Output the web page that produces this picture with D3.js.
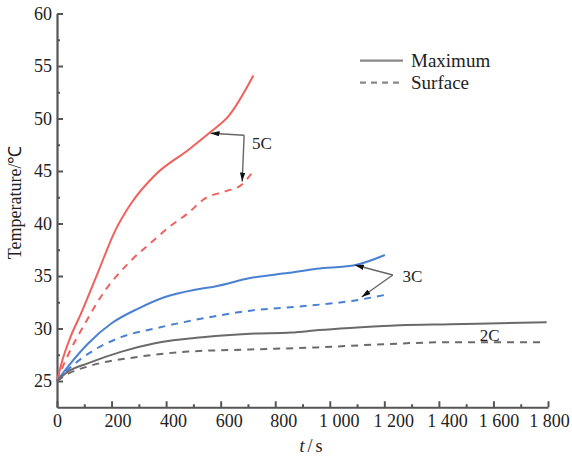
<!DOCTYPE html>
<html><head><meta charset="utf-8">
<script src="https://cdn.jsdelivr.net/npm/d3@7"></script>
<style>
body{margin:0;background:#fff}
svg{display:block}
text{font-family:"Liberation Serif","Times New Roman",serif;fill:#222}
</style>
</head><body>
<svg id="chart" width="572" height="456"></svg>
<script>
// ---- data ----
const xTickValues = [0,200,400,600,800,1000,1200,1400,1600,1800];
const xTickLabels = ["0","200","400","600","800","1 000","1 200","1 400","1 600","1 800"];
const xMinorTicks = [100,300,500,700,900,1100,1300,1500,1700];
const yTickValues = [25,30,35,40,45,50,55,60];
const yMinorTicks = [27.5,32.5,37.5,42.5,47.5,52.5,57.5];

const t5Max = [0,20,45,91,151,213,274,359,481,567,628,720];
const T5Max = [25,27.0,28.9,31.6,35.4,39.3,42.0,44.6,47.0,48.8,50.2,54.1];
const t5Surf = [0,20,41,103,176,261,359,408,481,543,616,677,714];
const T5Surf = [25,26.3,27.5,30.5,33.6,36.2,38.5,39.6,41.0,42.4,43.05,43.7,44.8];

const t3Max = [0,41,115,200,298,396,506,579,708,850,952,1086,1202];
const T3Max = [25,26.4,28.6,30.5,31.9,33.0,33.7,34.0,34.8,35.3,35.7,36.0,37.0];
const t3Surf = [0,41,115,237,359,543,708,891,1099,1202];
const T3Surf = [25,26.1,27.6,29.2,30.0,31.0,31.7,32.1,32.7,33.2];

const t2Max = [0,41,115,237,359,543,708,860,960,1074,1257,1441,1795];
const T2Max = [25,25.9,26.7,27.8,28.6,29.2,29.5,29.62,29.85,30.05,30.3,30.4,30.6];
const t2Surf = [0,41,115,298,481,708,952,1195,1441,1771];
const T2Surf = [25,25.7,26.4,27.3,27.8,28.0,28.2,28.5,28.7,28.7];

const legendLabels = ["Maximum","Surface"];
const rateLabels = ["5C","3C","2C"];
// annotation anchor points in data units [t, T]
const ann5 = {corner:[686,48.4], solid:[563,48.6], dashed:[679,44.0], label:[715,47.7]};
const ann3 = {corner:[1231,35.1], solid:[1092,36.05], dashed:[1117,33.0], label:[1267,35.0]};
const ann2 = {label:[1586,29.4]};

// ---- chart ----
const svg = d3.select("#chart");
const x = d3.scaleLinear().domain([0,1800]).range([57,548]);
const y = d3.scaleLinear().domain([22.5,60]).range([407.25,13.5]);

const axisColor = "#555";
const fs = 18;
const labelShift = [0,6,7,8,8,9,9,8,5,1];

// x axis
const gx = svg.append("g").attr("transform",`translate(0,${y(22.5)})`);
gx.call(d3.axisBottom(x).tickValues(xTickValues).tickSize(-6).tickSizeOuter(0).tickPadding(7)
  .tickFormat((d,i)=>xTickLabels[i]));
gx.selectAll("text").attr("font-size",fs).attr("font-family",null)
  .attr("dx",(d,i)=> labelShift[i]);
const gxm = svg.append("g").attr("transform",`translate(0,${y(22.5)})`);
gxm.call(d3.axisBottom(x).tickValues(xMinorTicks).tickSize(-3).tickSizeOuter(0).tickFormat(""));
gxm.select(".domain").remove();

// y axis
const gy = svg.append("g").attr("transform",`translate(${x(0)},0)`);
gy.call(d3.axisLeft(y).tickValues(yTickValues).tickSize(-6).tickSizeOuter(0).tickPadding(5));
gy.selectAll("text").attr("font-size",fs).attr("font-family",null);
const gym = svg.append("g").attr("transform",`translate(${x(0)},0)`);
gym.call(d3.axisLeft(y).tickValues(yMinorTicks).tickSize(-3).tickSizeOuter(0).tickFormat(""));
gym.select(".domain").remove();

svg.selectAll(".domain").attr("stroke",axisColor).attr("stroke-width",2.2);
svg.selectAll(".tick line").attr("stroke",axisColor).attr("stroke-width",2);
svg.selectAll(".tick text").attr("fill","#222");

// axis titles
svg.append("text").attr("transform",`translate(21,${(y(22.5)+y(60))/2 - 8}) rotate(-90)`)
  .attr("text-anchor","middle").attr("font-size",fs).text("Temperature/℃");
const xt = svg.append("text").attr("x",311).attr("y",452).attr("text-anchor","middle").attr("font-size",fs);
xt.append("tspan").attr("font-style","italic").text("t");
xt.append("tspan").text("/").attr("dx",3);
xt.append("tspan").text("s").attr("dx",3);

// lines
const line = d3.line().x(d=>x(d[0])).y(d=>y(d[1])).curve(d3.curveMonotoneX);
const red = "#f0605c", blue = "#4a80d2", gray = "#6a6a6a";
const series = [
  {t:t5Max,T:T5Max,c:red,dash:null},
  {t:t5Surf,T:T5Surf,c:red,dash:"7,6"},
  {t:t3Max,T:T3Max,c:blue,dash:null},
  {t:t3Surf,T:T3Surf,c:blue,dash:"7,6"},
  {t:t2Max,T:T2Max,c:gray,dash:null},
  {t:t2Surf,T:T2Surf,c:gray,dash:"7,6"}
];
series.forEach(s=>{
  svg.append("path").datum(s.t.map((v,i)=>[v,s.T[i]]))
    .attr("d",line).attr("fill","none").attr("stroke",s.c).attr("stroke-width",2)
    .attr("stroke-dasharray",s.dash);
});

// arrow marker
svg.append("defs").append("marker").attr("id","ah").attr("viewBox","0 0 10 6")
  .attr("refX",10).attr("refY",3).attr("markerWidth",9).attr("markerHeight",5.4)
  .attr("markerUnits","userSpaceOnUse").attr("orient","auto")
  .append("path").attr("d","M0,0L10,3L0,6z").attr("fill","#111");

[ann5,ann3].forEach(a=>{
  ["solid","dashed"].forEach(k=>{
    svg.append("line").attr("x1",x(a.corner[0])).attr("y1",y(a.corner[1]))
      .attr("x2",x(a[k][0])).attr("y2",y(a[k][1]))
      .attr("stroke","#666").attr("stroke-width",1.4).attr("marker-end","url(#ah)");
  });
});
[ann5,ann3,ann2].forEach((a,i)=>{
  svg.append("text").attr("x",x(a.label[0])).attr("y",y(a.label[1])).attr("dy","0.35em")
    .attr("text-anchor", i===2?"middle":"start").attr("font-size",17).text(rateLabels[i]);
});

// legend
const lg = svg.append("g");
[0,1].forEach(i=>{
  const yy = 60.7 + i*22;
  lg.append("line").attr("x1",360).attr("x2",403).attr("y1",yy).attr("y2",yy)
    .attr("stroke","#888").attr("stroke-width",2.2).attr("stroke-dasharray", i?"6,5":null);
  lg.append("text").attr("x",411).attr("y",yy).attr("dy","0.33em").attr("font-size",19)
    .text(legendLabels[i]);
});
</script>
</body></html>
